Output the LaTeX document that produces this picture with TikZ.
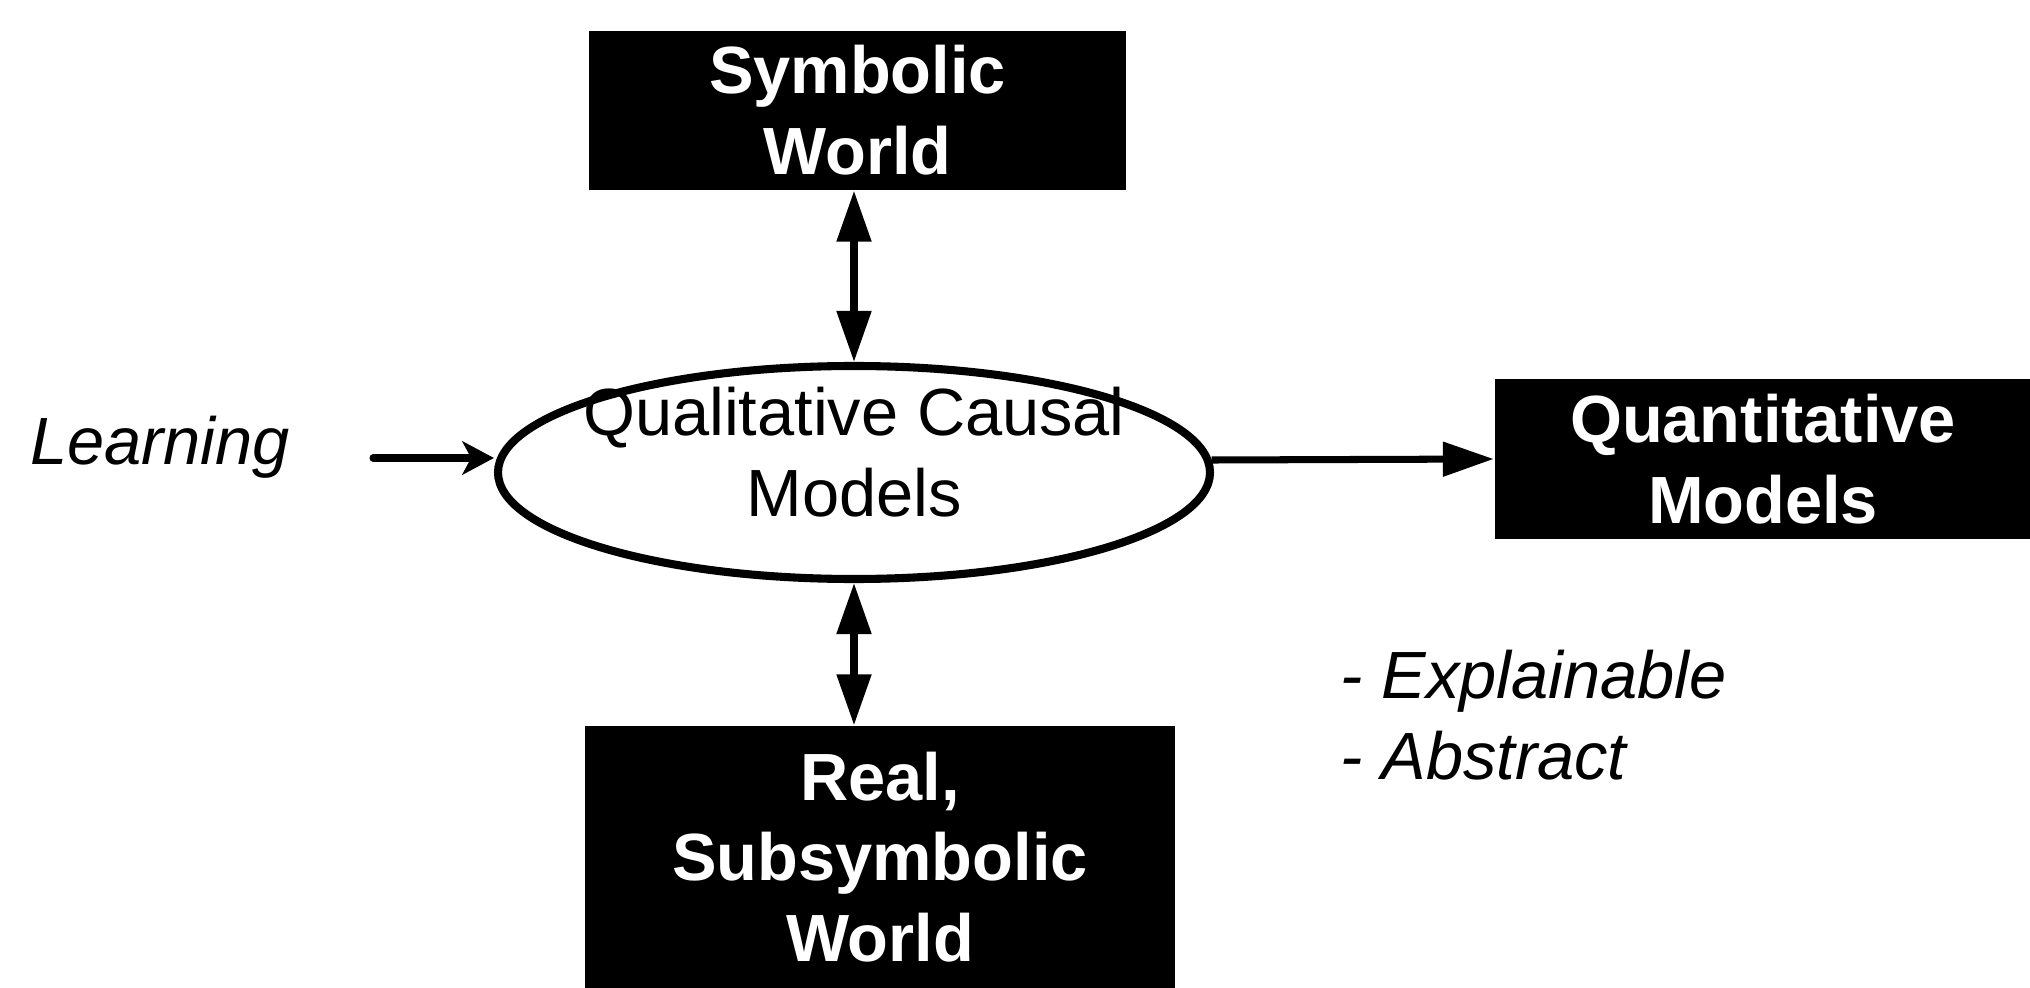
\documentclass[tikz,border=0pt]{standalone}
\usepackage{fontspec}
\setmainfont{Liberation Sans}
\usepackage{tikz}
\usetikzlibrary{shapes.geometric, arrows.meta}
\tikzstyle{world} = [rectangle, fill=black, text=white, font=\fontsize{19pt}{23pt}\selectfont\bfseries, align=center, inner sep=0pt]
\tikzstyle{model} = [ellipse, draw=black, line width=2.3pt, minimum width=7.12cm, minimum height=2.13cm, inner sep=0pt]
\tikzstyle{modeltext} = [align=center, inner sep=0pt, font=\fontsize{19pt}{23pt}\selectfont]
\tikzstyle{note} = [font=\fontsize{19pt}{23pt}\selectfont\itshape, inner sep=0pt]
\tikzstyle{arrow} = [line width=2pt, -{Triangle[length=14.5pt, width=9.5pt]}]
\tikzstyle{darrow} = [line width=2pt, {Triangle[length=14.5pt, width=9.5pt]}-{Triangle[length=14.5pt, width=9.5pt]}]

\begin{document}
\begin{tikzpicture}
        \useasboundingbox (0,0) rectangle (20.3,-9.88);

        \node (sym) [world, minimum width=5.37cm, minimum height=1.59cm] at (8.575,-1.105) {Symbolic\\World};
        \node (qcm) [model] at (8.54,-4.725) {};
        \node (qtxt) [modeltext] at ([yshift=0.2cm]qcm.center) {Qualitative Causal\\Models};
        \node (quant) [world, minimum width=5.37cm, minimum height=1.6cm] at (17.63,-4.59) {Quantitative\\Models};
        \node (real) [world, minimum width=5.9cm, minimum height=2.62cm] at (8.8,-8.57) {Real,\\Subsymbolic\\World};
        \node (learn) [note] at (1.6,-4.47) {Learning};
        \node (props) [note, anchor=west, align=left] at (13.4,-7.15) {- Explainable\\- Abstract};

        \coordinate (lstart) at (3.73,-4.58);

        \draw [darrow] (qcm.north) -- (qcm.north |- sym.south);
        \draw [darrow] (qcm.south) -- (qcm.south |- real.north);
        \draw [line width=2pt, line cap=round, -{Stealth[length=9pt, width=9.5pt, inset=2.5pt]}] (lstart) -- (lstart -| qcm.west);
        \draw [arrow] (qcm.2) -- (quant.west);

\end{tikzpicture}
\end{document}
